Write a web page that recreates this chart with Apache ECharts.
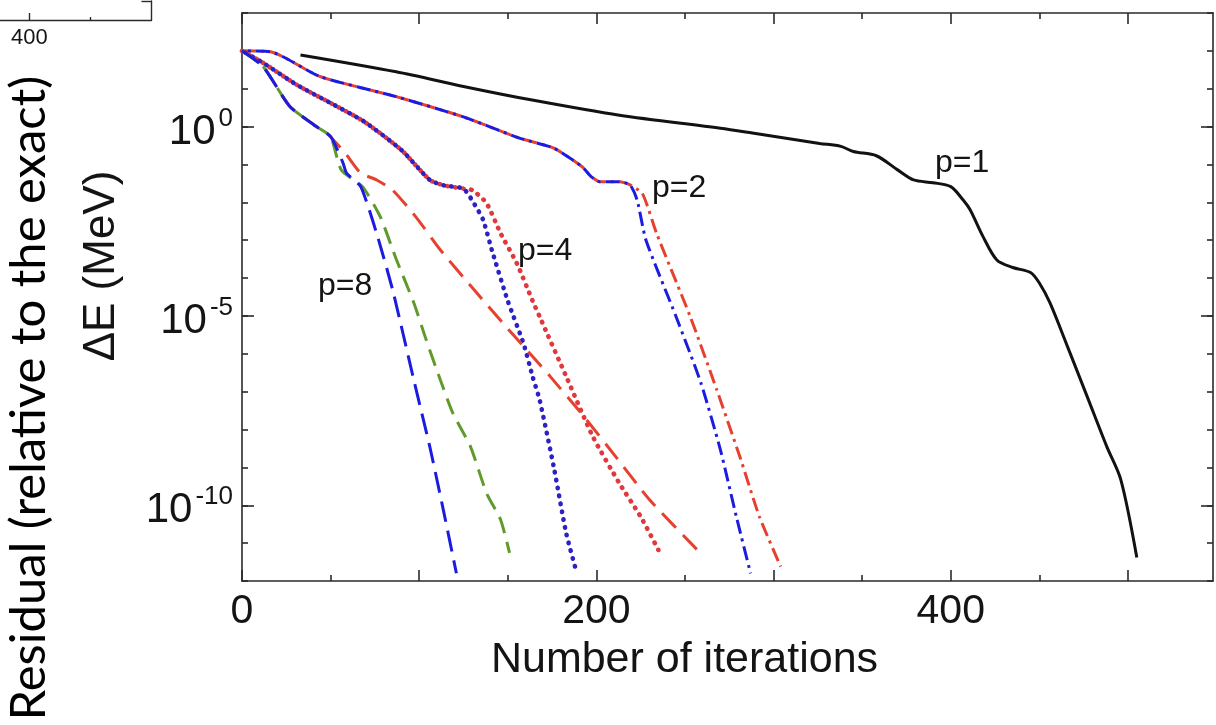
<!DOCTYPE html>
<html>
<head>
<meta charset="utf-8">
<script src="https://cdn.jsdelivr.net/npm/echarts@6.0.0/dist/echarts.min.js"></script>
<style>
html, body { margin: 0; padding: 0; background: #fff; }
#chart { width: 1216px; height: 725px; }
</style>
</head>
<body>
<div id="chart"></div>
<script>
// Convergence of the energy residual ΔE (MeV) versus iteration count for p = 1, 2, 4, 8

// p = 1 (single run, solid black)
const p1Iter  = [33, 87, 125, 163, 213, 270, 288, 326, 338, 345, 358, 370, 379, 390, 400, 407, 411, 418, 426, 435, 445, 450, 456, 466, 477, 488, 496, 505];
const p1Resid = [78, 28, 11.5, 5.1, 2.0, 0.91, 0.68, 0.36, 0.30, 0.22, 0.17, 0.072, 0.039, 0.033, 0.026, 1.15e-2, 6.3e-3, 1.3e-3, 3.0e-4, 1.9e-4, 1.4e-4, 7.4e-5, 2.2e-5, 1.5e-6, 7.4e-8, 3.6e-9, 4.7e-10, 4.2e-12];

// p = 2 (dash-dot pair)
const p2BlueIter  = [0, 16, 44, 87, 125, 157, 176, 192, 197, 202, 213, 219, 223, 228, 245, 259, 270, 279, 287];
const p2BlueResid = [100, 95, 21, 6.2, 1.8, 0.49, 0.27, 0.087, 0.048, 0.035, 0.035, 0.029, 1.15e-2, 1.0e-3, 9.5e-6, 1.7e-7, 2.9e-9, 5.0e-11, 1.6e-12];
const p2RedIter   = [0, 16, 44, 87, 125, 157, 176, 192, 197, 202, 213, 219, 226, 234, 253, 268, 281, 292, 304];
const p2RedResid  = [100, 95, 21, 6.2, 1.8, 0.49, 0.27, 0.087, 0.048, 0.035, 0.035, 0.029, 1.7e-2, 1.5e-3, 9.5e-6, 1.1e-7, 1.9e-9, 5.0e-11, 2.4e-12];

// p = 4 (dotted pair)
const p4BlueIter  = [0, 12, 31, 50, 69, 90, 106, 114, 125, 130, 136, 141, 150, 159, 164, 168, 176, 183, 189];
const p4BlueResid = [100, 48, 12.6, 4.2, 1.35, 0.24, 0.039, 0.028, 0.023, 1.1e-2, 3.5e-3, 5.5e-4, 2.5e-5, 1.8e-6, 2.5e-7, 6.0e-8, 1.0e-9, 1.8e-11, 1.6e-12];
const p4RedIter   = [0, 12, 31, 50, 69, 90, 106, 114, 125, 130, 138, 146, 155, 164, 168, 183, 198, 213, 225, 235];
const p4RedResid  = [100, 48, 12.6, 4.2, 1.35, 0.24, 0.039, 0.028, 0.023, 0.021, 9.5e-3, 1.5e-3, 2.5e-4, 2.5e-5, 9.5e-6, 2.5e-7, 6.5e-9, 3.8e-10, 5.0e-11, 6.6e-12];

// p = 8 (long-dash group)
const p8RedIter    = [0, 12, 27, 42, 46, 55, 59, 67, 76, 85, 98, 112, 131, 149, 164, 174, 193, 211, 230, 257];
const p8RedResid   = [100, 38, 3.4, 1.0, 0.81, 0.30, 0.18, 0.059, 0.039, 0.021, 4.2e-3, 5.5e-4, 4.9e-5, 5.2e-6, 8.5e-7, 2.5e-7, 2.2e-8, 1.9e-9, 1.4e-10, 6.6e-12];
const p8GreenIter  = [0, 12, 27, 42, 50, 56, 68, 78, 87, 97, 104, 112, 119, 129, 138, 146, 151];
const p8GreenResid = [100, 38, 3.4, 1.0, 0.55, 0.072, 0.026, 4.2e-3, 3.2e-4, 2.2e-5, 2.3e-6, 2.0e-7, 2.7e-8, 3.5e-9, 2.1e-10, 4.1e-11, 5.5e-12];
const p8BlueIter   = [0, 12, 27, 42, 50, 57, 59, 67, 76, 85, 97, 106, 114, 121];
const p8BlueResid  = [100, 38, 3.4, 1.0, 0.55, 0.11, 0.059, 0.026, 1.5e-3, 4.9e-5, 2.0e-7, 3.5e-9, 6.2e-11, 1.6e-12];

// Axis ticks and labels
const X_MAJOR_TICKS = [0, 100, 200, 300, 400, 500];
const X_MINOR_TICKS = [50, 150, 250, 350, 450];
const X_TICK_LABELS = [0, 200, 400];
const Y_MAJOR_TICKS = [1e-10, 1e-5, 1];
const Y_TICK_LABELS = [1e-10, 1e-5, 1];

// Neighbouring panel's axis corner
const INSET_MAJOR_TICKS = [400];
const INSET_MINOR_TICKS = [450];
const INSET_TICK_LABELS = [400];

const CURVE_LABELS = ['p=1', 'p=2', 'p=4', 'p=8'];

const FONT = "'Liberation Sans', Arial, sans-serif";
const AXIS_COLOR = '#2a2a2a';
const TEXT_COLOR = '#141414';

function pairs(xs, ys) {
  return xs.map((x, i) => [x, ys[i]]);
}

function curve(name, xs, ys, color, dash, extra) {
  return Object.assign({
    type: 'line',
    name: name,
    data: pairs(xs, ys),
    xAxisIndex: 0,
    yAxisIndex: 0,
    symbol: 'none',
    showSymbol: false,
    smooth: 0.2,
    silent: true,
    clip: true,
    lineStyle: { color: color, width: 3, type: dash }
  }, extra || {});
}

function xAxisDef(pos, ticks, len, showLine, labels, extra) {
  return Object.assign({
    gridIndex: 0, type: 'value', position: pos, min: 0, max: 548,
    axisLine: { show: showLine, onZero: false, lineStyle: { color: AXIS_COLOR, width: 1.6 } },
    axisTick: { show: true, inside: true, length: len, customValues: ticks, lineStyle: { color: AXIS_COLOR, width: 1.6 } },
    axisLabel: labels ? {
      show: true, customValues: labels, margin: 10, fontSize: 41, color: TEXT_COLOR, fontFamily: FONT
    } : { show: false },
    splitLine: { show: false }
  }, extra || {});
}

function yAxisDef(pos, len, showLine, majors, labels, extra) {
  const tick = { show: true, inside: true, length: len, lineStyle: { color: AXIS_COLOR, width: 1.6 } };
  if (majors) tick.customValues = majors;
  return Object.assign({
    gridIndex: 0, type: 'log', logBase: 10, position: pos, min: 1e-12, max: 1e3,
    interval: majors ? undefined : 1,
    axisLine: { show: showLine, onZero: false, lineStyle: { color: AXIS_COLOR, width: 1.6 } },
    axisTick: tick,
    axisLabel: labels ? {
      show: true, customValues: labels, margin: 9, align: 'right',
      formatter: function (v) {
        return '{b|10}{s|' + Math.round(Math.log10(v)) + '}';
      },
      rich: {
        b: { fontSize: 42, lineHeight: 42, padding: [11, 0, 0, 0], color: TEXT_COLOR, fontFamily: FONT },
        s: { fontSize: 26, lineHeight: 26, verticalAlign: 'top', padding: [0, 0, 0, 3], color: TEXT_COLOR, fontFamily: FONT }
      }
    } : { show: false },
    splitLine: { show: false },
    minorTick: { show: false }
  }, extra || {});
}

const chart = echarts.init(document.getElementById('chart'), null, { renderer: 'canvas' });

const option = {
  animation: false,
  backgroundColor: '#ffffff',
  textStyle: { fontFamily: FONT },
  grid: [
    { left: 242, right: 3, top: 13, bottom: 144, outerBoundsMode: 'none', containLabel: false },
    { left: -459, right: 1064.5, top: 1, bottom: 705, outerBoundsMode: 'none', containLabel: false }
  ],
  xAxis: [
    xAxisDef('bottom', X_MAJOR_TICKS, 11, true, X_TICK_LABELS, {
      name: 'Number of iterations', nameLocation: 'middle', nameGap: 58, nameMoveOverlap: false,
      nameTextStyle: { fontSize: 43, color: TEXT_COLOR, fontFamily: FONT, padding: [0, 86, 0, 0] }
    }),
    xAxisDef('bottom', X_MINOR_TICKS, 6, false, null),
    xAxisDef('top', X_MAJOR_TICKS, 11, true, null),
    xAxisDef('top', X_MINOR_TICKS, 6, false, null),
    {
      gridIndex: 1, type: 'value', position: 'bottom', min: 0, max: 500,
      axisLine: { show: true, onZero: false, lineStyle: { color: AXIS_COLOR, width: 1.4 } },
      axisTick: { show: true, inside: true, length: 7, customValues: INSET_MAJOR_TICKS, lineStyle: { color: AXIS_COLOR, width: 1.4 } },
      axisLabel: { show: true, customValues: INSET_TICK_LABELS, margin: 7, fontSize: 22, color: TEXT_COLOR, fontFamily: FONT },
      splitLine: { show: false }
    },
    {
      gridIndex: 1, type: 'value', position: 'bottom', min: 0, max: 500,
      axisLine: { show: false },
      axisTick: { show: true, inside: true, length: 3, customValues: INSET_MINOR_TICKS, lineStyle: { color: AXIS_COLOR, width: 1.4 } },
      axisLabel: { show: false },
      splitLine: { show: false }
    }
  ],
  yAxis: [
    yAxisDef('left', 12, true, Y_MAJOR_TICKS, Y_TICK_LABELS, {
      name: 'ΔE (MeV)', nameLocation: 'middle', nameGap: 118, nameMoveOverlap: false,
      nameTextStyle: { fontSize: 44, color: TEXT_COLOR, fontFamily: FONT, padding: [0, 0, 0, 62] }
    }),
    yAxisDef('left', 6, false, null, null),
    yAxisDef('right', 12, true, Y_MAJOR_TICKS, null),
    yAxisDef('right', 6, false, null, null),
    {
      gridIndex: 1, type: 'value', position: 'right', min: 0, max: 1,
      axisLine: { show: true, onZero: false, lineStyle: { color: AXIS_COLOR, width: 1.4 } },
      axisTick: { show: true, inside: true, length: 10, customValues: [1], lineStyle: { color: AXIS_COLOR, width: 1.4 } },
      axisLabel: { show: false },
      splitLine: { show: false }
    }
  ],
  series: [
    curve(CURVE_LABELS[0], p1Iter, p1Resid, '#121212', 'solid', { smooth: 0.3 }),
    curve('p=2 a', p2RedIter, p2RedResid, '#e8402f', [14, 5, 3, 5]),
    curve('p=2 b', p2BlueIter, p2BlueResid, '#1c1ce0', [14, 5, 3, 5], { lineStyle: { color: '#1c1ce0', width: 3, type: [14, 5, 3, 5], dashOffset: 13 } }),
    curve('p=4 a', p4RedIter, p4RedResid, '#e0383c', [0.5, 7.5], { lineStyle: { color: '#e0383c', width: 4.6, type: [0.5, 7.5], cap: 'round' } }),
    curve('p=4 b', p4BlueIter, p4BlueResid, '#2a22c4', [0.5, 7.5], { lineStyle: { color: '#2a22c4', width: 4.6, type: [0.5, 7.5], cap: 'round', dashOffset: 4 } }),
    curve('p=8 c', p8RedIter, p8RedResid, '#e8402f', [20, 10]),
    curve('p=8 b', p8GreenIter, p8GreenResid, '#5f9a2a', [17, 9]),
    curve('p=8 a', p8BlueIter, p8BlueResid, '#1c1ce0', [21, 9])
  ],
  graphic: [
    {
      type: 'text', x: 29, y: 398, rotation: Math.PI / 2, silent: true,
      style: { text: 'Residual (relative to the exact)', fontSize: 49, fontFamily: 'Lato, sans-serif', fill: '#000', align: 'center', verticalAlign: 'middle' }
    },
    { type: 'text', x: 935, y: 163.6, silent: true, style: { text: CURVE_LABELS[0], fontSize: 32, fontFamily: FONT, fill: TEXT_COLOR, align: 'left', verticalAlign: 'middle' } },
    { type: 'text', x: 652, y: 188.6, silent: true, style: { text: CURVE_LABELS[1], fontSize: 32, fontFamily: FONT, fill: TEXT_COLOR, align: 'left', verticalAlign: 'middle' } },
    { type: 'text', x: 518, y: 251.6, silent: true, style: { text: CURVE_LABELS[2], fontSize: 32, fontFamily: FONT, fill: TEXT_COLOR, align: 'left', verticalAlign: 'middle' } },
    { type: 'text', x: 318, y: 286.6, silent: true, style: { text: CURVE_LABELS[3], fontSize: 32, fontFamily: FONT, fill: TEXT_COLOR, align: 'left', verticalAlign: 'middle' } }
  ]
};

chart.setOption(option);
</script>
</body>
</html>
